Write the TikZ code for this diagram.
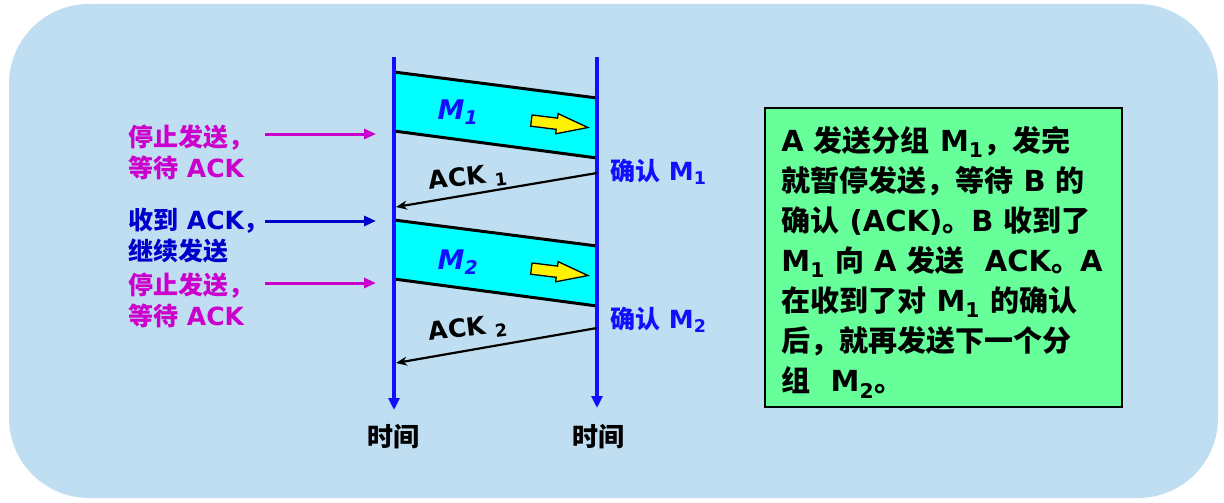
\documentclass[tikz,border=0pt]{standalone}
\usepackage{fontspec}
\setmainfont{DejaVu Sans}
\newfontfamily\cjk{Noto Sans CJK SC}
\usetikzlibrary{arrows.meta,shapes.arrows}
\definecolor{bgblue}{HTML}{BFDEF2}
\definecolor{lane}{HTML}{00FFFF}
\definecolor{tline}{HTML}{1010FF}
\definecolor{stopc}{HTML}{CC00CC}
\definecolor{goc}{HTML}{0000CC}
\definecolor{notegreen}{HTML}{66FF99}
\newcommand\zh[1]{{\cjk #1}}

\begin{document}
\begin{tikzpicture}[x=1pt,y=-1pt,
  side/.style={font=\bfseries\fontsize{25}{31}\selectfont,align=left,anchor=west,inner sep=0pt},
  timeline/.style={tline,line width=3.5pt,-{Triangle[length=12pt,width=11pt]}},
  edge/.style={black,line width=3pt},
  ackline/.style={black,line width=2.2pt,-{Stealth[length=11pt,width=9pt]}},
  hint/.style={line width=3pt,-{Triangle[length=12pt,width=10pt]}},
  yarrow/.style={single arrow,draw=black,fill=yellow,line width=1.3pt,minimum height=57pt,
    inner xsep=0pt,inner ysep=5pt,single arrow head extend=4.5pt,single arrow tip angle=36},
  msg/.style={font=\bfseries\itshape\fontsize{27}{27}\selectfont,text=tline},
  acklbl/.style={font=\bfseries\fontsize{25}{25}\selectfont,rotate=7,inner sep=1pt},
  confirm/.style={font=\bfseries\fontsize{25}{25}\selectfont,text=tline,anchor=west,inner sep=0pt},
  timelbl/.style={font=\bfseries\fontsize{26}{26}\selectfont}]
\useasboundingbox (0,0) rectangle (1224,503);
\fill[bgblue,rounded corners=80pt] (9,4) rectangle (1218,498);

% end points on the two time lines
\coordinate (atop) at (394,57);
\coordinate (abot) at (394,410);
\coordinate (btop) at (597,57);
\coordinate (bbot) at (597,408);
\coordinate (a1) at (394,72);
\coordinate (a2) at (394,131);
\coordinate (a3) at (396,207);
\coordinate (a4) at (394,220);
\coordinate (a5) at (394,279);
\coordinate (a6) at (396,363);
\coordinate (b1) at (597,98);
\coordinate (b2) at (597,158);
\coordinate (b3) at (597,173);
\coordinate (b4) at (597,246);
\coordinate (b5) at (597,306);
\coordinate (b6) at (597,328);

% frames in flight
\fill[lane] (a1) -- (b1) -- (b2) -- (a2) -- cycle;
\fill[lane] (a4) -- (b4) -- (b5) -- (a5) -- cycle;
\draw[edge] (a1) -- (b1);
\draw[edge] (a2) -- (b2);
\draw[edge] (a4) -- (b4);
\draw[edge] (a5) -- (b5);
\node[yarrow,rotate=-7] (m1dir) at (551,123) {};
\node[yarrow,rotate=-7] (m2dir) at (551,271) {};
\node[msg] (m1) at (458,112) {M\textsubscript{1}};
\node[msg] (m2) at (458,262) {M\textsubscript{2}};

% time lines
\draw[timeline] (atop) -- (abot);
\draw[timeline] (btop) -- (bbot);
\node[timelbl] (tA) at (393,437) {\zh{时间}};
\node[timelbl] (tB) at (598,437) {\zh{时间}};

% acknowledgements
\draw[ackline] (b3) -- (a3);
\draw[ackline] (b6) -- (a6);
\node[acklbl] (ack1) at (468,178) {ACK\ \textsubscript{1}};
\node[acklbl] (ack2) at (468,329) {ACK\ \textsubscript{2}};
\node[confirm] (ok1) at (610,172) {\zh{确认} M\textsubscript{1}};
\node[confirm] (ok2) at (610,320) {\zh{确认} M\textsubscript{2}};

% sender side hints
\node[side,text=stopc] (stop1) at (128,152) {\zh{停止发送，}\\\zh{等待} ACK};
\node[side,text=goc] (go1) at (128,236) {\zh{收到} ACK\zh{，}\\\zh{继续发送}};
\node[side,text=stopc] (stop2) at (128,300) {\zh{停止发送，}\\\zh{等待} ACK};
\coordinate (s1) at (265,134);
\coordinate (e1) at (376,134);
\coordinate (s2) at (265,221);
\coordinate (e2) at (376,221);
\coordinate (s3) at (265,283);
\coordinate (e3) at (376,283);
\draw[hint,stopc] (s1) -- (e1);
\draw[hint,goc] (s2) -- (e2);
\draw[hint,stopc] (s3) -- (e3);

% explanation
\node[draw=black,line width=1.5pt,fill=notegreen,minimum width=357pt,minimum height=299pt] (note) at (943.5,257.5) {};
\node[anchor=north west,inner sep=0pt,align=left,font=\bfseries\fontsize{29}{40}\selectfont]
  (notetext) at ([shift={(17,19)}]note.north west)
  {A \zh{发送分组} M\textsubscript{1}\zh{，发完}\\
   \zh{就暂停发送，等待} B \zh{的}\\
   \zh{确认} (ACK)\zh{。}B \zh{收到了}\\
   M\textsubscript{1} \zh{向} A \zh{发送}\ \ ACK\zh{。}A\\
   \zh{在收到了对} M\textsubscript{1} \zh{的确认}\\
   \zh{后，就再发送下一个分}\\
   \zh{组}\ \ M\textsubscript{2}\zh{。}};
\end{tikzpicture}
\end{document}
